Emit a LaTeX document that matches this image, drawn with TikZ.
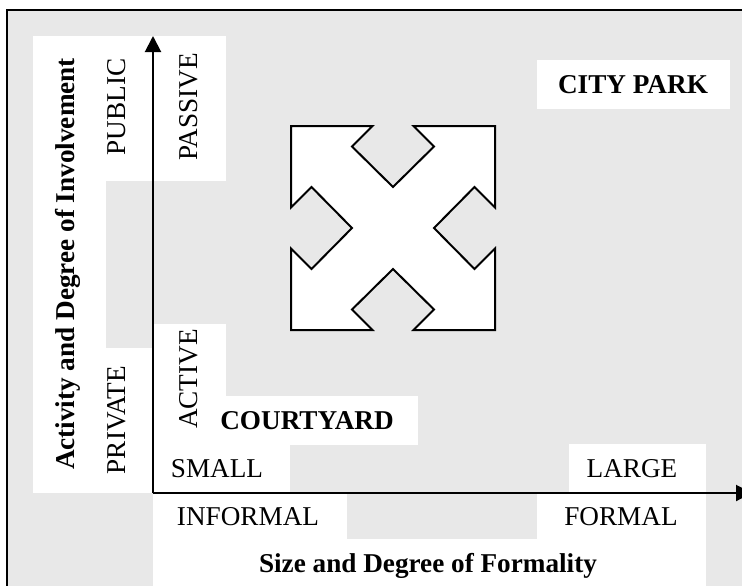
\documentclass[tikz,border=0pt]{standalone}
\usepackage{fontspec}
\setmainfont{Liberation Serif}
\usepackage{xcolor}
\usetikzlibrary{arrows.meta,positioning}
\definecolor{panelgray}{HTML}{E8E8E8}

\begin{document}
\begin{tikzpicture}[x=0.5pt, y=-0.5pt, font=\fontsize{13.6}{16}\selectfont,
    axis/.style={line width=1pt, -{Triangle[length=8pt,width=8pt]}},
    whitebox/.style={fill=white},
    sidelabel/.style={rotate=90, inner sep=0pt},
    flatlabel/.style={inner sep=0pt},
    boldlabel/.style={font=\fontsize{13.6}{16}\selectfont\bfseries}]
    \useasboundingbox (0,0) rectangle (742,585);
    \clip (0,0) rectangle (742,585);
    % grey panel with frame
    \filldraw [fill=panelgray, draw=black, line width=1.1pt] (7,10) rectangle (770,610);
    % white label areas
    \fill [whitebox] (33,36) rectangle (106,493);
    \fill [whitebox] (106,36) rectangle (226,181);
    \fill [whitebox] (106,348) rectangle (153,493);
    \fill [whitebox] (153,324) rectangle (226,396);
    \fill [whitebox] (153,396) rectangle (418,445);
    \fill [whitebox] (153,445) rectangle (290,493);
    \fill [whitebox] (153,493) rectangle (347,539);
    \fill [whitebox] (153,539) rectangle (706,600);
    \fill [whitebox] (537,493) rectangle (706,539);
    \fill [whitebox] (569,444) rectangle (706,493);
    \fill [whitebox] (537,60) rectangle (730,109);

    % axes
    \coordinate (origin) at (153,493);
    \coordinate (ytip) at (153,36);
    \coordinate (xtip) at (752,493);
    \draw [axis] (origin) -- (ytip);
    \draw [axis] (origin) -- (xtip);

    % cross of four arrows
    \filldraw [fill=white, draw=black, line width=1pt, line join=miter]
        (291,126) -- (372.5,126) -- (352,146.5) -- (393,187) -- (434,146.5) -- (413.5,126)
        -- (495,126) -- (495,207.5) -- (474.5,187) -- (434,228) -- (474.5,269) -- (495,248.5)
        -- (495,330) -- (413.5,330) -- (434,309.5) -- (393,269) -- (352,309.5) -- (372.5,330)
        -- (291,330) -- (291,248.5) -- (311.5,269) -- (352,228) -- (311.5,187) -- (291,207.5) -- cycle;

    % labels
    \node (involve) [sidelabel, boldlabel] at (68,264) {Activity and Degree of Involvement};
    \node (public) [sidelabel] at (117,107) {PUBLIC};
    \node (passive) [sidelabel] at (189,107) {PASSIVE};
    \node (private) [sidelabel] at (117,420) {PRIVATE};
    \node (active) [sidelabel] at (189,379) {ACTIVE};
    \node (courtyard) [flatlabel, boldlabel] at (307,421) {COURTYARD};
    \node (small) [flatlabel] at (217,469) {SMALL};
    \node (large) [flatlabel] at (632,469) {LARGE};
    \node (informal) [flatlabel] at (248,517) {INFORMAL};
    \node (formal) [flatlabel] at (621,517) {FORMAL};
    \node (formality) [flatlabel, boldlabel] at (428,566) {Size and Degree of Formality};
    \node (citypark) [flatlabel, boldlabel] at (633,85) {CITY PARK};
\end{tikzpicture}
\end{document}
